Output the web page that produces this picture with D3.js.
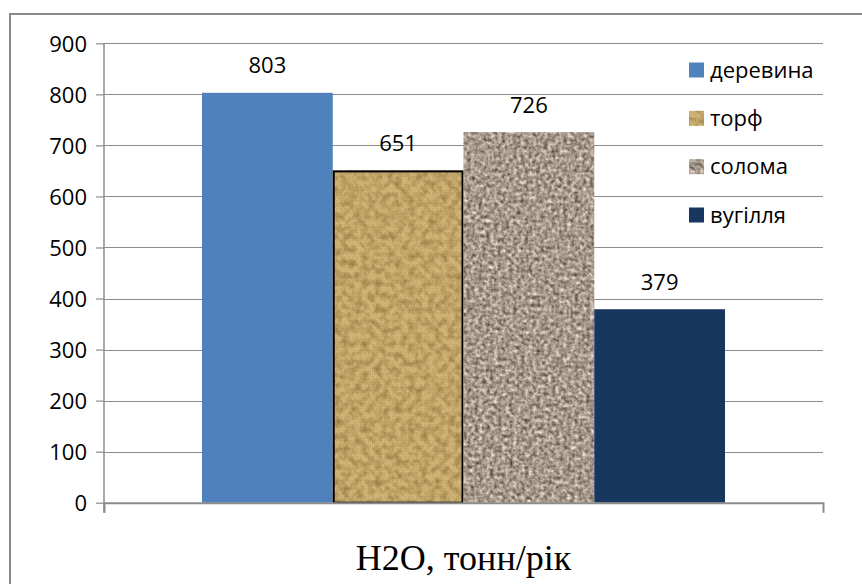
<!DOCTYPE html>
<html>
<head>
<meta charset="utf-8">
<script src="https://cdn.jsdelivr.net/npm/d3@7"></script>
<style>
  html, body { margin: 0; padding: 0; background: #fff; }
  svg { display: block; }
</style>
</head>
<body>
<svg id="chart" width="862" height="584"></svg>
<script>
// Annual H2O output by fuel type
const categories = ["деревина", "торф", "солома", "вугілля"];
const values = [803, 651, 726, 379];
const yTicks = [0, 100, 200, 300, 400, 500, 600, 700, 800, 900];
const groupLabel = "H2O, тонн/рік";

const svg = d3.select("#chart");
const plot = { left: 104, right: 823, top: 43.3, bottom: 502.7 };

const fills = {
  "деревина": "#4f81bd",
  "вугілля": "#17375e"
};

const defs = svg.append("defs");

// woven burlap texture
const pat = defs.append("pattern")
  .attr("id", "burlap")
  .attr("patternUnits", "userSpaceOnUse")
  .attr("width", 8).attr("height", 8);
pat.append("rect").attr("width", 8).attr("height", 8).attr("fill", "#9a7c3f");
const strands = [
  // [x, y, w, h]
  [0, 0.4, 4, 1.4], [0, 2.4, 4, 1.4],
  [4.4, 0, 1.4, 4], [6.4, 0, 1.4, 4],
  [0.4, 4, 1.4, 4], [2.4, 4, 1.4, 4],
  [4, 4.4, 4, 1.4], [4, 6.4, 4, 1.4]
];
pat.selectAll("rect.s").data(strands).enter().append("rect")
  .attr("class", "s")
  .attr("x", d => d[0]).attr("y", d => d[1])
  .attr("width", d => d[2]).attr("height", d => d[3])
  .attr("fill", "#e4c889");

// mottled noise for burlap variation
const fb = defs.append("filter").attr("id", "burlapNoise")
  .attr("x", 0).attr("y", 0).attr("width", 1).attr("height", 1)
  .attr("color-interpolation-filters", "sRGB");
fb.append("feTurbulence").attr("type", "fractalNoise")
  .attr("baseFrequency", 0.15).attr("numOctaves", 2).attr("seed", 7).attr("result", "n");
fb.append("feColorMatrix").attr("type", "matrix")
  .attr("values", "0 0 0 0 0.42  0 0 0 0 0.31  0 0 0 0 0.12  1.0 0 0 0 -0.36");
fb.append("feComposite").attr("in2", "SourceGraphic").attr("operator", "in");

// speckled stone texture for straw
const fg = defs.append("filter").attr("id", "granite")
  .attr("x", 0).attr("y", 0).attr("width", 1).attr("height", 1)
  .attr("color-interpolation-filters", "sRGB");
fg.append("feTurbulence").attr("type", "fractalNoise")
  .attr("baseFrequency", 0.26).attr("numOctaves", 2).attr("seed", 3).attr("result", "n");
fg.append("feColorMatrix").attr("type", "matrix")
  .attr("values", "0.6 0.2 0.2 0 0  0.6 0.2 0.2 0 0  0.6 0.2 0.2 0 0  0 0 0 0 1").attr("result", "l");
const ct = fg.append("feComponentTransfer").attr("result", "c");
ct.append("feFuncR").attr("type", "linear").attr("slope", 1.2).attr("intercept", 0.05);
ct.append("feFuncG").attr("type", "linear").attr("slope", 1.2).attr("intercept", 0.0);
ct.append("feFuncB").attr("type", "linear").attr("slope", 1.2).attr("intercept", -0.05);
fg.append("feComposite").attr("in", "c").attr("in2", "SourceGraphic").attr("operator", "in");

// outer frame
svg.append("rect")
  .attr("x", 10).attr("y", 14).attr("width", 900).attr("height", 600)
  .attr("fill", "#fff").attr("stroke", "#898989").attr("stroke-width", 2);

const y = d3.scaleLinear().domain([0, 900]).range([plot.bottom, plot.top]);
const x0 = d3.scaleBand().domain([groupLabel]).range([plot.left, plot.right])
  .paddingInner(0).paddingOuter(0.1874);
const x1 = d3.scaleBand().domain(categories).range([0, x0.bandwidth()]).padding(0);

// gridlines
svg.append("g")
  .selectAll("line").data(yTicks.filter(t => t > 0)).enter().append("line")
  .attr("x1", plot.left).attr("x2", plot.right)
  .attr("y1", d => Math.round(y(d)) + 0.5).attr("y2", d => Math.round(y(d)) + 0.5)
  .attr("stroke", "#8c8c8c").attr("stroke-width", 1.2);

// draws a filled swatch or bar for a category
function paint(sel, c, bx, by, bw, bh) {
  if (c === "торф") {
    sel.append("rect").attr("x", bx).attr("y", by).attr("width", bw).attr("height", bh)
      .attr("fill", "url(#burlap)");
    sel.append("rect").attr("x", bx).attr("y", by).attr("width", bw).attr("height", bh)
      .attr("fill", "#000").attr("filter", "url(#burlapNoise)");
  } else if (c === "солома") {
    sel.append("rect").attr("x", bx).attr("y", by).attr("width", bw).attr("height", bh)
      .attr("fill", "#000").attr("filter", "url(#granite)");
  } else {
    sel.append("rect").attr("x", bx).attr("y", by).attr("width", bw).attr("height", bh)
      .attr("fill", fills[c]);
  }
}

// bars
const bars = svg.append("g").attr("transform", `translate(${x0(groupLabel)},0)`);
categories.forEach((c, i) => {
  const bx = x1(c), bw = x1.bandwidth();
  const top = y(values[i]), h = y(0) - y(values[i]);
  paint(bars, c, bx, top, bw, h);
  if (c === "торф") {
    bars.append("rect").attr("x", bx + 1).attr("y", top + 1).attr("width", bw - 2).attr("height", h - 1)
      .attr("fill", "none").attr("stroke", "#000").attr("stroke-width", 2);
  }
  bars.append("text")
    .attr("x", bx + bw / 2).attr("y", top - 19.5)
    .attr("text-anchor", "middle")
    .attr("font-family", "'Open Sans', sans-serif").attr("font-size", 22)
    .attr("fill", "#000")
    .text(values[i]);
});

// y axis
const yAxis = d3.axisLeft(y).tickValues(yTicks).tickSize(8).tickPadding(9).tickSizeOuter(0);
const ya = svg.append("g").attr("transform", `translate(${plot.left},0)`).call(yAxis);
ya.select(".domain").attr("stroke", "#8c8c8c").attr("stroke-width", 1.5)
  .attr("d", `M0,${plot.top}V${plot.bottom + 10}`);
ya.selectAll(".tick line").attr("stroke", "#8c8c8c").attr("stroke-width", 1.2);
ya.selectAll(".tick text")
  .attr("font-family", "'Open Sans', sans-serif").attr("font-size", 22).attr("fill", "#000")
  .attr("dy", "0.36em");

// x axis
const xAxis = d3.axisBottom(x0).tickValues([]).tickSizeOuter(10);
const xa = svg.append("g").attr("transform", `translate(0,${plot.bottom})`).call(xAxis);
xa.select(".domain").attr("stroke", "#8c8c8c").attr("stroke-width", 2);

svg.append("text")
  .attr("x", x0(groupLabel) + x0.bandwidth() / 2).attr("y", 570)
  .attr("text-anchor", "middle")
  .attr("font-family", "'Liberation Serif', 'Times New Roman', serif").attr("font-size", 36)
  .attr("fill", "#000")
  .text(groupLabel);

// legend
const legend = svg.append("g").attr("transform", "translate(689,0)");
const ly = d3.scalePoint().domain(categories).range([70, 215]);
categories.forEach(c => {
  const g = legend.append("g").attr("transform", `translate(0,${ly(c)})`);
  paint(g, c, 0, -7.5, 15, 15);
  g.append("text").attr("x", 21).attr("y", 0).attr("dy", "0.35em")
    .attr("font-family", "'Open Sans', sans-serif").attr("font-size", 22).attr("fill", "#000")
    .text(c);
});
</script>
</body>
</html>
